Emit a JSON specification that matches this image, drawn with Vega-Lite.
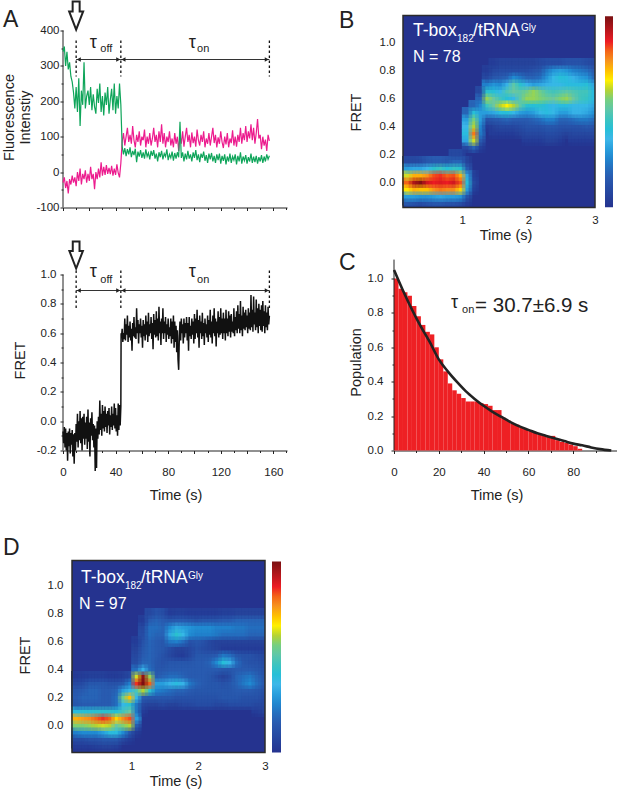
{"$schema":"https://vega.github.io/schema/vega-lite/v6.json","padding":{"left":2,"top":-2.5,"right":0,"bottom":0},"background":"white","bounds":"flush","align":"none","columns":3,"spacing":{"row":0,"column":0},"config":{"view":{"stroke":null},"font":"Liberation Sans","text":{"font":"Liberation Sans","color":"#222"},"axis":{"labelFont":"Liberation Sans","labelFontSize":11.5,"labelColor":"#222","grid":false,"domainColor":"#222","tickColor":"#222","title":null,"labelOverlap":false,"labelFlush":false}},
"datasets":{
"traceA":[{"t":0,"green":340,"pink":-30},{"t":1,"green":355,"pink":-15},{"t":2,"green":300,"pink":-45},{"t":3,"green":340,"pink":-25},{"t":4,"green":290,"pink":-60},{"t":5,"green":310,"pink":-20},{"t":6,"green":270,"pink":-35},{"t":7,"green":255,"pink":-10},{"t":8,"green":225,"pink":-30},{"t":9,"green":180,"pink":-15},{"t":10,"green":240,"pink":-40},{"t":11,"green":170,"pink":0},{"t":12,"green":265,"pink":-25},{"t":13,"green":130,"pink":10},{"t":14,"green":230,"pink":-35},{"t":15,"green":190,"pink":-5},{"t":16,"green":310,"pink":-20},{"t":17,"green":180,"pink":5},{"t":18,"green":215,"pink":-30},{"t":19,"green":230,"pink":-5},{"t":20,"green":190,"pink":-25},{"t":21,"green":240,"pink":15},{"t":22,"green":175,"pink":-20},{"t":23,"green":220,"pink":-5},{"t":24,"green":185,"pink":-48},{"t":25,"green":165,"pink":0},{"t":26,"green":235,"pink":-20},{"t":27,"green":195,"pink":10},{"t":28,"green":250,"pink":-15},{"t":29,"green":170,"pink":28},{"t":30,"green":215,"pink":-10},{"t":31,"green":160,"pink":15},{"t":32,"green":225,"pink":-8},{"t":33,"green":190,"pink":20},{"t":34,"green":240,"pink":-5},{"t":35,"green":165,"pink":12},{"t":36,"green":205,"pink":-6},{"t":37,"green":235,"pink":18},{"t":38,"green":175,"pink":-10},{"t":39,"green":250,"pink":10},{"t":40,"green":165,"pink":-8},{"t":41,"green":215,"pink":22},{"t":42,"green":180,"pink":-2},{"t":43,"green":250,"pink":-15},{"t":44,"green":190,"pink":25},{"t":45,"green":72,"pink":85},{"t":46,"green":50,"pink":110},{"t":47,"green":68,"pink":75},{"t":48,"green":45,"pink":100},{"t":49,"green":65,"pink":125},{"t":50,"green":50,"pink":85},{"t":51,"green":70,"pink":105},{"t":52,"green":42,"pink":80},{"t":53,"green":60,"pink":130},{"t":54,"green":48,"pink":90},{"t":55,"green":66,"pink":70},{"t":56,"green":28,"pink":105},{"t":57,"green":58,"pink":85},{"t":58,"green":44,"pink":115},{"t":59,"green":62,"pink":75},{"t":60,"green":40,"pink":100},{"t":61,"green":56,"pink":90},{"t":62,"green":38,"pink":120},{"t":63,"green":64,"pink":70},{"t":64,"green":44,"pink":100},{"t":65,"green":54,"pink":80},{"t":66,"green":36,"pink":110},{"t":67,"green":60,"pink":75},{"t":68,"green":46,"pink":95},{"t":69,"green":62,"pink":125},{"t":70,"green":38,"pink":85},{"t":71,"green":52,"pink":105},{"t":72,"green":30,"pink":70},{"t":73,"green":56,"pink":115},{"t":74,"green":42,"pink":85},{"t":75,"green":60,"pink":135},{"t":76,"green":36,"pink":80},{"t":77,"green":52,"pink":110},{"t":78,"green":44,"pink":70},{"t":79,"green":64,"pink":100},{"t":80,"green":34,"pink":85},{"t":81,"green":50,"pink":115},{"t":82,"green":40,"pink":75},{"t":83,"green":58,"pink":95},{"t":84,"green":32,"pink":70},{"t":85,"green":54,"pink":110},{"t":86,"green":38,"pink":80},{"t":87,"green":56,"pink":100},{"t":88,"green":42,"pink":60},{"t":89,"green":142,"pink":105},{"t":90,"green":40,"pink":80},{"t":91,"green":56,"pink":115},{"t":92,"green":30,"pink":72},{"t":93,"green":52,"pink":100},{"t":94,"green":36,"pink":125},{"t":95,"green":60,"pink":85},{"t":96,"green":38,"pink":105},{"t":97,"green":50,"pink":70},{"t":98,"green":30,"pink":112},{"t":99,"green":56,"pink":82},{"t":100,"green":40,"pink":100},{"t":101,"green":62,"pink":72},{"t":102,"green":34,"pink":120},{"t":103,"green":50,"pink":90},{"t":104,"green":28,"pink":75},{"t":105,"green":52,"pink":105},{"t":106,"green":40,"pink":85},{"t":107,"green":58,"pink":115},{"t":108,"green":32,"pink":70},{"t":109,"green":48,"pink":95},{"t":110,"green":26,"pink":80},{"t":111,"green":52,"pink":110},{"t":112,"green":36,"pink":75},{"t":113,"green":54,"pink":100},{"t":114,"green":30,"pink":125},{"t":115,"green":46,"pink":82},{"t":116,"green":26,"pink":105},{"t":117,"green":50,"pink":70},{"t":118,"green":34,"pink":98},{"t":119,"green":52,"pink":80},{"t":120,"green":24,"pink":115},{"t":121,"green":46,"pink":85},{"t":122,"green":32,"pink":68},{"t":123,"green":50,"pink":100},{"t":124,"green":22,"pink":78},{"t":125,"green":44,"pink":110},{"t":126,"green":30,"pink":70},{"t":127,"green":52,"pink":95},{"t":128,"green":26,"pink":82},{"t":129,"green":44,"pink":118},{"t":130,"green":34,"pink":75},{"t":131,"green":50,"pink":100},{"t":132,"green":22,"pink":72},{"t":133,"green":46,"pink":105},{"t":134,"green":30,"pink":85},{"t":135,"green":56,"pink":125},{"t":136,"green":24,"pink":80},{"t":137,"green":44,"pink":110},{"t":138,"green":32,"pink":90},{"t":139,"green":48,"pink":130},{"t":140,"green":24,"pink":85},{"t":141,"green":42,"pink":115},{"t":142,"green":30,"pink":95},{"t":143,"green":52,"pink":135},{"t":144,"green":26,"pink":90},{"t":145,"green":44,"pink":125},{"t":146,"green":28,"pink":80},{"t":147,"green":46,"pink":110},{"t":148,"green":24,"pink":150},{"t":149,"green":42,"pink":95},{"t":150,"green":30,"pink":105},{"t":151,"green":48,"pink":65},{"t":152,"green":26,"pink":100},{"t":153,"green":44,"pink":75},{"t":154,"green":30,"pink":92},{"t":155,"green":50,"pink":60},{"t":156,"green":36,"pink":105},{"t":157,"green":46,"pink":88}],
"fretA":[{"t":0,"f":-0.07},{"t":0.5,"f":-0.15},{"t":1,"f":-0.04},{"t":1.5,"f":-0.18},{"t":2,"f":-0.05},{"t":2.5,"f":-0.2},{"t":3,"f":-0.08},{"t":3.5,"f":-0.27},{"t":4,"f":-0.07},{"t":4.5,"f":-0.17},{"t":5,"f":-0.05},{"t":5.5,"f":-0.22},{"t":6,"f":-0.08},{"t":6.5,"f":-0.16},{"t":7,"f":-0.06},{"t":7.5,"f":-0.24},{"t":8,"f":-0.09},{"t":8.5,"f":-0.29},{"t":9,"f":-0.08},{"t":9.5,"f":-0.2},{"t":10,"f":-0.02},{"t":10.5,"f":-0.14},{"t":11,"f":0.05},{"t":11.5,"f":-0.18},{"t":12,"f":0},{"t":12.5,"f":-0.13},{"t":13,"f":0.07},{"t":13.5,"f":-0.15},{"t":14,"f":0.02},{"t":14.5,"f":-0.2},{"t":15,"f":0.03},{"t":15.5,"f":-0.12},{"t":16,"f":0.05},{"t":16.5,"f":-0.16},{"t":17,"f":-0.01},{"t":17.5,"f":-0.12},{"t":18,"f":0.03},{"t":18.5,"f":-0.19},{"t":19,"f":0.08},{"t":19.5,"f":-0.14},{"t":20,"f":-0.01},{"t":20.5,"f":-0.24},{"t":21,"f":0.02},{"t":21.5,"f":-0.1},{"t":22,"f":0.06},{"t":22.5,"f":-0.13},{"t":23,"f":-0.02},{"t":23.5,"f":-0.18},{"t":24,"f":-0.03},{"t":24.5,"f":-0.34},{"t":25,"f":-0.05},{"t":25.5,"f":-0.32},{"t":26,"f":0},{"t":26.5,"f":-0.12},{"t":27,"f":0.03},{"t":27.5,"f":-0.09},{"t":28,"f":0.14},{"t":28.5,"f":-0.06},{"t":29,"f":0.05},{"t":29.5,"f":-0.1},{"t":30,"f":0.11},{"t":30.5,"f":-0.05},{"t":31,"f":0.07},{"t":31.5,"f":-0.07},{"t":32,"f":0.1},{"t":32.5,"f":-0.04},{"t":33,"f":0.05},{"t":33.5,"f":-0.08},{"t":34,"f":0.07},{"t":34.5,"f":-0.03},{"t":35,"f":0.09},{"t":35.5,"f":-0.09},{"t":36,"f":0.04},{"t":36.5,"f":-0.04},{"t":37,"f":0.1},{"t":37.5,"f":-0.06},{"t":38,"f":0.05},{"t":38.5,"f":-0.03},{"t":39,"f":0.12},{"t":39.5,"f":-0.05},{"t":40,"f":0.09},{"t":40.5,"f":-0.07},{"t":41,"f":0.04},{"t":41.5,"f":-0.1},{"t":42,"f":0.12},{"t":42.5,"f":-0.06},{"t":43,"f":0.11},{"t":43.5,"f":-0.03},{"t":44,"f":0.1},{"t":44.2,"f":0.6},{"t":44.5,"f":0.57},{"t":45,"f":0.63},{"t":45.5,"f":0.54},{"t":46,"f":0.6},{"t":46.5,"f":0.56},{"t":47,"f":0.7},{"t":47.5,"f":0.55},{"t":48,"f":0.66},{"t":48.5,"f":0.59},{"t":49,"f":0.72},{"t":49.5,"f":0.54},{"t":50,"f":0.65},{"t":50.5,"f":0.57},{"t":51,"f":0.68},{"t":51.5,"f":0.55},{"t":52,"f":0.63},{"t":52.5,"f":0.48},{"t":53,"f":0.67},{"t":53.5,"f":0.58},{"t":54,"f":0.71},{"t":54.5,"f":0.57},{"t":55,"f":0.64},{"t":55.5,"f":0.56},{"t":56,"f":0.77},{"t":56.5,"f":0.6},{"t":57,"f":0.69},{"t":57.5,"f":0.53},{"t":58,"f":0.66},{"t":58.5,"f":0.6},{"t":59,"f":0.7},{"t":59.5,"f":0.57},{"t":60,"f":0.65},{"t":60.5,"f":0.5},{"t":61,"f":0.69},{"t":61.5,"f":0.58},{"t":62,"f":0.66},{"t":62.5,"f":0.55},{"t":63,"f":0.72},{"t":63.5,"f":0.59},{"t":64,"f":0.68},{"t":64.5,"f":0.54},{"t":65,"f":0.74},{"t":65.5,"f":0.58},{"t":66,"f":0.66},{"t":66.5,"f":0.6},{"t":67,"f":0.71},{"t":67.5,"f":0.56},{"t":68,"f":0.67},{"t":68.5,"f":0.49},{"t":69,"f":0.73},{"t":69.5,"f":0.59},{"t":70,"f":0.69},{"t":70.5,"f":0.57},{"t":71,"f":0.75},{"t":71.5,"f":0.58},{"t":72,"f":0.7},{"t":72.5,"f":0.55},{"t":73,"f":0.78},{"t":73.5,"f":0.6},{"t":74,"f":0.68},{"t":74.5,"f":0.52},{"t":75,"f":0.7},{"t":75.5,"f":0.6},{"t":76,"f":0.77},{"t":76.5,"f":0.56},{"t":77,"f":0.68},{"t":77.5,"f":0.6},{"t":78,"f":0.71},{"t":78.5,"f":0.54},{"t":79,"f":0.66},{"t":79.5,"f":0.59},{"t":80,"f":0.7},{"t":80.5,"f":0.56},{"t":81,"f":0.64},{"t":81.5,"f":0.58},{"t":82,"f":0.7},{"t":82.5,"f":0.53},{"t":83,"f":0.68},{"t":83.5,"f":0.56},{"t":84,"f":0.72},{"t":84.5,"f":0.5},{"t":85,"f":0.68},{"t":85.5,"f":0.54},{"t":86,"f":0.65},{"t":86.5,"f":0.47},{"t":87,"f":0.62},{"t":87.5,"f":0.42},{"t":88,"f":0.35},{"t":88.5,"f":0.58},{"t":89,"f":0.68},{"t":89.5,"f":0.55},{"t":90,"f":0.7},{"t":90.5,"f":0.6},{"t":91,"f":0.66},{"t":91.5,"f":0.53},{"t":92,"f":0.7},{"t":92.5,"f":0.57},{"t":93,"f":0.67},{"t":93.5,"f":0.6},{"t":94,"f":0.71},{"t":94.5,"f":0.55},{"t":95,"f":0.67},{"t":95.5,"f":0.48},{"t":96,"f":0.71},{"t":96.5,"f":0.58},{"t":97,"f":0.65},{"t":97.5,"f":0.56},{"t":98,"f":0.7},{"t":98.5,"f":0.59},{"t":99,"f":0.68},{"t":99.5,"f":0.53},{"t":100,"f":0.73},{"t":100.5,"f":0.56},{"t":101,"f":0.7},{"t":101.5,"f":0.6},{"t":102,"f":0.76},{"t":102.5,"f":0.57},{"t":103,"f":0.69},{"t":103.5,"f":0.5},{"t":104,"f":0.72},{"t":104.5,"f":0.6},{"t":105,"f":0.68},{"t":105.5,"f":0.56},{"t":106,"f":0.74},{"t":106.5,"f":0.58},{"t":107,"f":0.67},{"t":107.5,"f":0.52},{"t":108,"f":0.7},{"t":108.5,"f":0.6},{"t":109,"f":0.66},{"t":109.5,"f":0.57},{"t":110,"f":0.72},{"t":110.5,"f":0.54},{"t":111,"f":0.69},{"t":111.5,"f":0.59},{"t":112,"f":0.76},{"t":112.5,"f":0.57},{"t":113,"f":0.68},{"t":113.5,"f":0.53},{"t":114,"f":0.72},{"t":114.5,"f":0.6},{"t":115,"f":0.77},{"t":115.5,"f":0.58},{"t":116,"f":0.7},{"t":116.5,"f":0.51},{"t":117,"f":0.68},{"t":117.5,"f":0.6},{"t":118,"f":0.75},{"t":118.5,"f":0.57},{"t":119,"f":0.71},{"t":119.5,"f":0.59},{"t":120,"f":0.77},{"t":120.5,"f":0.6},{"t":121,"f":0.7},{"t":121.5,"f":0.56},{"t":122,"f":0.74},{"t":122.5,"f":0.6},{"t":123,"f":0.7},{"t":123.5,"f":0.55},{"t":124,"f":0.76},{"t":124.5,"f":0.6},{"t":125,"f":0.7},{"t":125.5,"f":0.58},{"t":126,"f":0.75},{"t":126.5,"f":0.61},{"t":127,"f":0.72},{"t":127.5,"f":0.57},{"t":128,"f":0.73},{"t":128.5,"f":0.61},{"t":129,"f":0.68},{"t":129.5,"f":0.6},{"t":130,"f":0.77},{"t":130.5,"f":0.58},{"t":131,"f":0.71},{"t":131.5,"f":0.62},{"t":132,"f":0.75},{"t":132.5,"f":0.6},{"t":133,"f":0.79},{"t":133.5,"f":0.63},{"t":134,"f":0.73},{"t":134.5,"f":0.6},{"t":135,"f":0.82},{"t":135.5,"f":0.62},{"t":136,"f":0.72},{"t":136.5,"f":0.58},{"t":137,"f":0.78},{"t":137.5,"f":0.63},{"t":138,"f":0.74},{"t":138.5,"f":0.62},{"t":139,"f":0.76},{"t":139.5,"f":0.64},{"t":140,"f":0.72},{"t":140.5,"f":0.6},{"t":141,"f":0.77},{"t":141.5,"f":0.63},{"t":142,"f":0.74},{"t":142.5,"f":0.62},{"t":143,"f":0.86},{"t":143.5,"f":0.64},{"t":144,"f":0.76},{"t":144.5,"f":0.61},{"t":145,"f":0.85},{"t":145.5,"f":0.66},{"t":146,"f":0.74},{"t":146.5,"f":0.62},{"t":147,"f":0.83},{"t":147.5,"f":0.64},{"t":148,"f":0.77},{"t":148.5,"f":0.6},{"t":149,"f":0.8},{"t":149.5,"f":0.65},{"t":150,"f":0.76},{"t":150.5,"f":0.62},{"t":151,"f":0.79},{"t":151.5,"f":0.61},{"t":152,"f":0.82},{"t":152.5,"f":0.65},{"t":153,"f":0.75},{"t":153.5,"f":0.6},{"t":154,"f":0.79},{"t":154.5,"f":0.64},{"t":155,"f":0.74},{"t":155.5,"f":0.62},{"t":156,"f":0.78},{"t":156.5,"f":0.66},{"t":157,"f":0.72}],
"bars":[{"t":1,"p":1},{"t":3,"p":0.94},{"t":5,"p":0.92},{"t":7,"p":0.9},{"t":9,"p":0.84},{"t":11,"p":0.78},{"t":13,"p":0.73},{"t":15,"p":0.69},{"t":17,"p":0.675},{"t":19,"p":0.6},{"t":21,"p":0.53},{"t":23,"p":0.46},{"t":25,"p":0.39},{"t":27,"p":0.35},{"t":29,"p":0.33},{"t":31,"p":0.305},{"t":33,"p":0.285},{"t":35,"p":0.285},{"t":37,"p":0.285},{"t":39,"p":0.275},{"t":41,"p":0.27},{"t":43,"p":0.26},{"t":45,"p":0.235},{"t":47,"p":0.235},{"t":49,"p":0.19},{"t":51,"p":0.175},{"t":53,"p":0.155},{"t":55,"p":0.15},{"t":57,"p":0.135},{"t":59,"p":0.125},{"t":61,"p":0.115},{"t":63,"p":0.105},{"t":65,"p":0.095},{"t":67,"p":0.088},{"t":69,"p":0.085},{"t":71,"p":0.085},{"t":73,"p":0.06},{"t":75,"p":0.05},{"t":77,"p":0.045},{"t":79,"p":0.035},{"t":81,"p":0.025},{"t":83,"p":0.01}],
"fit":[{"t":0,"p":1.05},{"t":4,"p":0.93},{"t":8,"p":0.82},{"t":12,"p":0.72},{"t":16,"p":0.63},{"t":20,"p":0.53},{"t":24,"p":0.46},{"t":28,"p":0.4},{"t":32,"p":0.345},{"t":36,"p":0.3},{"t":40,"p":0.26},{"t":44,"p":0.225},{"t":48,"p":0.195},{"t":52,"p":0.165},{"t":56,"p":0.14},{"t":60,"p":0.12},{"t":64,"p":0.1},{"t":68,"p":0.085},{"t":72,"p":0.07},{"t":76,"p":0.055},{"t":80,"p":0.04},{"t":84,"p":0.03},{"t":88,"p":0.018},{"t":92,"p":0.008},{"t":97,"p":0}],
"heatB":[
{"t":0.15,"f":-0.15,"d":14},{"t":0.25,"f":-0.15,"d":12},{"t":0.35,"f":-0.15,"d":10},{"t":0.45,"f":-0.15,"d":12},{"t":0.55,"f":-0.15,"d":14},{"t":0.65,"f":-0.15,"d":14},{"t":0.75,"f":-0.15,"d":12},{"t":0.85,"f":-0.15,"d":12},{"t":0.95,"f":-0.15,"d":10},{"t":1.05,"f":-0.15,"d":4},
{"t":0.15,"f":-0.1,"d":30},{"t":0.25,"f":-0.1,"d":30},{"t":0.35,"f":-0.1,"d":28},{"t":0.45,"f":-0.1,"d":28},{"t":0.55,"f":-0.1,"d":30},{"t":0.65,"f":-0.1,"d":32},{"t":0.75,"f":-0.1,"d":30},{"t":0.85,"f":-0.1,"d":30},{"t":0.95,"f":-0.1,"d":28},{"t":1.05,"f":-0.1,"d":12},
{"t":0.15,"f":-0.05,"d":66},{"t":0.25,"f":-0.05,"d":72},{"t":0.35,"f":-0.05,"d":70},{"t":0.45,"f":-0.05,"d":70},{"t":0.55,"f":-0.05,"d":75},{"t":0.65,"f":-0.05,"d":78},{"t":0.75,"f":-0.05,"d":76},{"t":0.85,"f":-0.05,"d":76},{"t":0.95,"f":-0.05,"d":68},{"t":1.05,"f":-0.05,"d":30},{"t":1.15,"f":-0.05,"d":5},
{"t":0.15,"f":0,"d":80},{"t":0.25,"f":0,"d":92},{"t":0.35,"f":0,"d":97},{"t":0.45,"f":0,"d":88},{"t":0.55,"f":0,"d":85},{"t":0.65,"f":0,"d":87},{"t":0.75,"f":0,"d":85},{"t":0.85,"f":0,"d":88},{"t":0.95,"f":0,"d":82},{"t":1.05,"f":0,"d":40},{"t":1.15,"f":0,"d":8},
{"t":0.15,"f":0.05,"d":62},{"t":0.25,"f":0.05,"d":72},{"t":0.35,"f":0.05,"d":72},{"t":0.45,"f":0.05,"d":75},{"t":0.55,"f":0.05,"d":82},{"t":0.65,"f":0.05,"d":84},{"t":0.75,"f":0.05,"d":80},{"t":0.85,"f":0.05,"d":82},{"t":0.95,"f":0.05,"d":72},{"t":1.05,"f":0.05,"d":32},{"t":1.15,"f":0.05,"d":5},
{"t":0.15,"f":0.1,"d":30},{"t":0.25,"f":0.1,"d":32},{"t":0.35,"f":0.1,"d":32},{"t":0.45,"f":0.1,"d":35},{"t":0.55,"f":0.1,"d":42},{"t":0.65,"f":0.1,"d":45},{"t":0.75,"f":0.1,"d":40},{"t":0.85,"f":0.1,"d":44},{"t":0.95,"f":0.1,"d":42},{"t":1.05,"f":0.1,"d":15},
{"t":0.15,"f":0.15,"d":8},{"t":0.25,"f":0.15,"d":8},{"t":0.35,"f":0.15,"d":10},{"t":0.45,"f":0.15,"d":14},{"t":0.55,"f":0.15,"d":16},{"t":0.65,"f":0.15,"d":16},{"t":0.75,"f":0.15,"d":14},{"t":0.85,"f":0.15,"d":18},{"t":0.95,"f":0.15,"d":18},{"t":1.05,"f":0.15,"d":6},
{"t":0.85,"f":0.2,"d":8},{"t":0.95,"f":0.2,"d":8},
{"t":1.05,"f":0.25,"d":8},{"t":1.15,"f":0.25,"d":18},{"t":1.25,"f":0.25,"d":5},
{"t":1.05,"f":0.3,"d":32},{"t":1.15,"f":0.3,"d":62},{"t":1.25,"f":0.3,"d":15},{"t":1.95,"f":0.3,"d":4},{"t":2.05,"f":0.3,"d":4},{"t":2.15,"f":0.3,"d":4},{"t":2.25,"f":0.3,"d":6},{"t":2.35,"f":0.3,"d":6},{"t":2.45,"f":0.3,"d":4},{"t":2.65,"f":0.3,"d":4},{"t":2.75,"f":0.3,"d":4},{"t":2.85,"f":0.3,"d":4},{"t":2.95,"f":0.3,"d":4},
{"t":1.05,"f":0.35,"d":38},{"t":1.15,"f":0.35,"d":78},{"t":1.25,"f":0.35,"d":22},{"t":1.45,"f":0.35,"d":4},{"t":1.55,"f":0.35,"d":4},{"t":1.65,"f":0.35,"d":4},{"t":1.75,"f":0.35,"d":4},{"t":1.85,"f":0.35,"d":6},{"t":1.95,"f":0.35,"d":8},{"t":2.05,"f":0.35,"d":8},{"t":2.15,"f":0.35,"d":8},{"t":2.25,"f":0.35,"d":10},{"t":2.35,"f":0.35,"d":10},{"t":2.45,"f":0.35,"d":8},{"t":2.55,"f":0.35,"d":6},{"t":2.65,"f":0.35,"d":8},{"t":2.75,"f":0.35,"d":8},{"t":2.85,"f":0.35,"d":8},{"t":2.95,"f":0.35,"d":8},
{"t":1.05,"f":0.4,"d":35},{"t":1.15,"f":0.4,"d":60},{"t":1.25,"f":0.4,"d":25},{"t":1.35,"f":0.4,"d":4},{"t":1.45,"f":0.4,"d":6},{"t":1.55,"f":0.4,"d":8},{"t":1.65,"f":0.4,"d":8},{"t":1.75,"f":0.4,"d":8},{"t":1.85,"f":0.4,"d":10},{"t":1.95,"f":0.4,"d":12},{"t":2.05,"f":0.4,"d":12},{"t":2.15,"f":0.4,"d":12},{"t":2.25,"f":0.4,"d":14},{"t":2.35,"f":0.4,"d":14},{"t":2.45,"f":0.4,"d":12},{"t":2.55,"f":0.4,"d":12},{"t":2.65,"f":0.4,"d":12},{"t":2.75,"f":0.4,"d":12},{"t":2.85,"f":0.4,"d":14},{"t":2.95,"f":0.4,"d":12},
{"t":1.05,"f":0.45,"d":30},{"t":1.15,"f":0.45,"d":55},{"t":1.25,"f":0.45,"d":30},{"t":1.35,"f":0.45,"d":12},{"t":1.45,"f":0.45,"d":14},{"t":1.55,"f":0.45,"d":16},{"t":1.65,"f":0.45,"d":18},{"t":1.75,"f":0.45,"d":16},{"t":1.85,"f":0.45,"d":16},{"t":1.95,"f":0.45,"d":16},{"t":2.05,"f":0.45,"d":18},{"t":2.15,"f":0.45,"d":20},{"t":2.25,"f":0.45,"d":24},{"t":2.35,"f":0.45,"d":24},{"t":2.45,"f":0.45,"d":18},{"t":2.55,"f":0.45,"d":18},{"t":2.65,"f":0.45,"d":20},{"t":2.75,"f":0.45,"d":22},{"t":2.85,"f":0.45,"d":22},{"t":2.95,"f":0.45,"d":20},
{"t":1.05,"f":0.5,"d":18},{"t":1.15,"f":0.5,"d":40},{"t":1.25,"f":0.5,"d":30},{"t":1.35,"f":0.5,"d":30},{"t":1.45,"f":0.5,"d":32},{"t":1.55,"f":0.5,"d":38},{"t":1.65,"f":0.5,"d":40},{"t":1.75,"f":0.5,"d":36},{"t":1.85,"f":0.5,"d":30},{"t":1.95,"f":0.5,"d":28},{"t":2.05,"f":0.5,"d":30},{"t":2.15,"f":0.5,"d":36},{"t":2.25,"f":0.5,"d":38},{"t":2.35,"f":0.5,"d":36},{"t":2.45,"f":0.5,"d":30},{"t":2.55,"f":0.5,"d":30},{"t":2.65,"f":0.5,"d":34},{"t":2.75,"f":0.5,"d":34},{"t":2.85,"f":0.5,"d":32},{"t":2.95,"f":0.5,"d":28},
{"t":1.15,"f":0.55,"d":18},{"t":1.25,"f":0.55,"d":25},{"t":1.35,"f":0.55,"d":45},{"t":1.45,"f":0.55,"d":52},{"t":1.55,"f":0.55,"d":60},{"t":1.65,"f":0.55,"d":65},{"t":1.75,"f":0.55,"d":60},{"t":1.85,"f":0.55,"d":50},{"t":1.95,"f":0.55,"d":42},{"t":2.05,"f":0.55,"d":40},{"t":2.15,"f":0.55,"d":42},{"t":2.25,"f":0.55,"d":38},{"t":2.35,"f":0.55,"d":36},{"t":2.45,"f":0.55,"d":38},{"t":2.55,"f":0.55,"d":38},{"t":2.65,"f":0.55,"d":36},{"t":2.75,"f":0.55,"d":36},{"t":2.85,"f":0.55,"d":36},{"t":2.95,"f":0.55,"d":32},
{"t":1.25,"f":0.6,"d":18},{"t":1.35,"f":0.6,"d":58},{"t":1.45,"f":0.6,"d":52},{"t":1.55,"f":0.6,"d":46},{"t":1.65,"f":0.6,"d":40},{"t":1.75,"f":0.6,"d":36},{"t":1.85,"f":0.6,"d":50},{"t":1.95,"f":0.6,"d":58},{"t":2.05,"f":0.6,"d":58},{"t":2.15,"f":0.6,"d":56},{"t":2.25,"f":0.6,"d":54},{"t":2.35,"f":0.6,"d":52},{"t":2.45,"f":0.6,"d":56},{"t":2.55,"f":0.6,"d":58},{"t":2.65,"f":0.6,"d":52},{"t":2.75,"f":0.6,"d":46},{"t":2.85,"f":0.6,"d":44},{"t":2.95,"f":0.6,"d":38},
{"t":1.25,"f":0.65,"d":8},{"t":1.35,"f":0.65,"d":42},{"t":1.45,"f":0.65,"d":40},{"t":1.55,"f":0.65,"d":36},{"t":1.65,"f":0.65,"d":48},{"t":1.75,"f":0.65,"d":52},{"t":1.85,"f":0.65,"d":50},{"t":1.95,"f":0.65,"d":54},{"t":2.05,"f":0.65,"d":58},{"t":2.15,"f":0.65,"d":54},{"t":2.25,"f":0.65,"d":48},{"t":2.35,"f":0.65,"d":46},{"t":2.45,"f":0.65,"d":48},{"t":2.55,"f":0.65,"d":50},{"t":2.65,"f":0.65,"d":48},{"t":2.75,"f":0.65,"d":46},{"t":2.85,"f":0.65,"d":46},{"t":2.95,"f":0.65,"d":38},
{"t":1.35,"f":0.7,"d":24},{"t":1.45,"f":0.7,"d":28},{"t":1.55,"f":0.7,"d":26},{"t":1.65,"f":0.7,"d":34},{"t":1.75,"f":0.7,"d":50},{"t":1.85,"f":0.7,"d":42},{"t":1.95,"f":0.7,"d":34},{"t":2.05,"f":0.7,"d":30},{"t":2.15,"f":0.7,"d":32},{"t":2.25,"f":0.7,"d":34},{"t":2.35,"f":0.7,"d":36},{"t":2.45,"f":0.7,"d":36},{"t":2.55,"f":0.7,"d":38},{"t":2.65,"f":0.7,"d":38},{"t":2.75,"f":0.7,"d":38},{"t":2.85,"f":0.7,"d":40},{"t":2.95,"f":0.7,"d":32},
{"t":1.35,"f":0.75,"d":8},{"t":1.45,"f":0.75,"d":14},{"t":1.55,"f":0.75,"d":16},{"t":1.65,"f":0.75,"d":18},{"t":1.75,"f":0.75,"d":26},{"t":1.85,"f":0.75,"d":22},{"t":1.95,"f":0.75,"d":18},{"t":2.05,"f":0.75,"d":18},{"t":2.15,"f":0.75,"d":20},{"t":2.25,"f":0.75,"d":28},{"t":2.35,"f":0.75,"d":36},{"t":2.45,"f":0.75,"d":40},{"t":2.55,"f":0.75,"d":38},{"t":2.65,"f":0.75,"d":34},{"t":2.75,"f":0.75,"d":30},{"t":2.85,"f":0.75,"d":28},{"t":2.95,"f":0.75,"d":20},
{"t":1.35,"f":0.8,"d":4},{"t":1.45,"f":0.8,"d":8},{"t":1.55,"f":0.8,"d":10},{"t":1.65,"f":0.8,"d":10},{"t":1.75,"f":0.8,"d":10},{"t":1.85,"f":0.8,"d":10},{"t":1.95,"f":0.8,"d":10},{"t":2.05,"f":0.8,"d":12},{"t":2.15,"f":0.8,"d":14},{"t":2.25,"f":0.8,"d":22},{"t":2.35,"f":0.8,"d":28},{"t":2.45,"f":0.8,"d":30},{"t":2.55,"f":0.8,"d":28},{"t":2.65,"f":0.8,"d":24},{"t":2.75,"f":0.8,"d":22},{"t":2.85,"f":0.8,"d":20},{"t":2.95,"f":0.8,"d":16},
{"t":1.45,"f":0.85,"d":4},{"t":1.55,"f":0.85,"d":6},{"t":1.65,"f":0.85,"d":6},{"t":1.75,"f":0.85,"d":6},{"t":1.85,"f":0.85,"d":6},{"t":1.95,"f":0.85,"d":6},{"t":2.05,"f":0.85,"d":6},{"t":2.15,"f":0.85,"d":8},{"t":2.25,"f":0.85,"d":10},{"t":2.35,"f":0.85,"d":10},{"t":2.45,"f":0.85,"d":10},{"t":2.55,"f":0.85,"d":12},{"t":2.65,"f":0.85,"d":12},{"t":2.75,"f":0.85,"d":12},{"t":2.85,"f":0.85,"d":10},{"t":2.95,"f":0.85,"d":8}
],
"heatD":[
{"t":0.15,"f":-0.15,"d":4},{"t":0.25,"f":-0.15,"d":4},{"t":0.35,"f":-0.15,"d":4},{"t":0.45,"f":-0.15,"d":5},{"t":0.55,"f":-0.15,"d":6},{"t":0.65,"f":-0.15,"d":6},{"t":0.75,"f":-0.15,"d":5},
{"t":0.15,"f":-0.1,"d":10},{"t":0.25,"f":-0.1,"d":10},{"t":0.35,"f":-0.1,"d":12},{"t":0.45,"f":-0.1,"d":12},{"t":0.55,"f":-0.1,"d":14},{"t":0.65,"f":-0.1,"d":14},{"t":0.75,"f":-0.1,"d":14},{"t":0.85,"f":-0.1,"d":8},{"t":0.95,"f":-0.1,"d":4},
{"t":0.15,"f":-0.05,"d":24},{"t":0.25,"f":-0.05,"d":26},{"t":0.35,"f":-0.05,"d":26},{"t":0.45,"f":-0.05,"d":26},{"t":0.55,"f":-0.05,"d":30},{"t":0.65,"f":-0.05,"d":38},{"t":0.75,"f":-0.05,"d":38},{"t":0.85,"f":-0.05,"d":26},{"t":0.95,"f":-0.05,"d":14},{"t":1.05,"f":-0.05,"d":4},
{"t":0.15,"f":0,"d":56},{"t":0.25,"f":0,"d":56},{"t":0.35,"f":0,"d":58},{"t":0.45,"f":0,"d":60},{"t":0.55,"f":0,"d":62},{"t":0.65,"f":0,"d":60},{"t":0.75,"f":0,"d":52},{"t":0.85,"f":0,"d":56},{"t":0.95,"f":0,"d":60},{"t":1.05,"f":0,"d":16},
{"t":0.15,"f":0.05,"d":72},{"t":0.25,"f":0.05,"d":74},{"t":0.35,"f":0.05,"d":76},{"t":0.45,"f":0.05,"d":80},{"t":0.55,"f":0.05,"d":84},{"t":0.65,"f":0.05,"d":80},{"t":0.75,"f":0.05,"d":68},{"t":0.85,"f":0.05,"d":76},{"t":0.95,"f":0.05,"d":82},{"t":1.05,"f":0.05,"d":30},
{"t":0.15,"f":0.1,"d":38},{"t":0.25,"f":0.1,"d":40},{"t":0.35,"f":0.1,"d":40},{"t":0.45,"f":0.1,"d":42},{"t":0.55,"f":0.1,"d":42},{"t":0.65,"f":0.1,"d":42},{"t":0.75,"f":0.1,"d":40},{"t":0.85,"f":0.1,"d":46},{"t":0.95,"f":0.1,"d":52},{"t":1.05,"f":0.1,"d":22},{"t":1.15,"f":0.1,"d":4},{"t":2.85,"f":0.1,"d":4},{"t":2.95,"f":0.1,"d":6},
{"t":0.15,"f":0.15,"d":14},{"t":0.25,"f":0.15,"d":16},{"t":0.35,"f":0.15,"d":16},{"t":0.45,"f":0.15,"d":16},{"t":0.55,"f":0.15,"d":16},{"t":0.65,"f":0.15,"d":16},{"t":0.75,"f":0.15,"d":20},{"t":0.85,"f":0.15,"d":36},{"t":0.95,"f":0.15,"d":42},{"t":1.05,"f":0.15,"d":22},{"t":1.15,"f":0.15,"d":8},{"t":1.25,"f":0.15,"d":6},{"t":1.35,"f":0.15,"d":6},{"t":1.45,"f":0.15,"d":8},{"t":1.55,"f":0.15,"d":6},{"t":1.65,"f":0.15,"d":6},{"t":1.75,"f":0.15,"d":8},{"t":1.85,"f":0.15,"d":8},{"t":1.95,"f":0.15,"d":10},{"t":2.05,"f":0.15,"d":10},{"t":2.15,"f":0.15,"d":10},{"t":2.25,"f":0.15,"d":8},{"t":2.35,"f":0.15,"d":8},{"t":2.45,"f":0.15,"d":10},{"t":2.55,"f":0.15,"d":10},{"t":2.65,"f":0.15,"d":10},{"t":2.75,"f":0.15,"d":10},{"t":2.85,"f":0.15,"d":8},{"t":2.95,"f":0.15,"d":8},
{"t":0.15,"f":0.2,"d":16},{"t":0.25,"f":0.2,"d":18},{"t":0.35,"f":0.2,"d":18},{"t":0.45,"f":0.2,"d":18},{"t":0.55,"f":0.2,"d":16},{"t":0.65,"f":0.2,"d":16},{"t":0.75,"f":0.2,"d":20},{"t":0.85,"f":0.2,"d":54},{"t":0.95,"f":0.2,"d":70},{"t":1.05,"f":0.2,"d":36},{"t":1.15,"f":0.2,"d":16},{"t":1.25,"f":0.2,"d":14},{"t":1.35,"f":0.2,"d":14},{"t":1.45,"f":0.2,"d":14},{"t":1.55,"f":0.2,"d":14},{"t":1.65,"f":0.2,"d":12},{"t":1.75,"f":0.2,"d":12},{"t":1.85,"f":0.2,"d":12},{"t":1.95,"f":0.2,"d":12},{"t":2.05,"f":0.2,"d":12},{"t":2.15,"f":0.2,"d":12},{"t":2.25,"f":0.2,"d":12},{"t":2.35,"f":0.2,"d":14},{"t":2.45,"f":0.2,"d":14},{"t":2.55,"f":0.2,"d":14},{"t":2.65,"f":0.2,"d":12},{"t":2.75,"f":0.2,"d":12},{"t":2.85,"f":0.2,"d":12},{"t":2.95,"f":0.2,"d":10},
{"t":0.15,"f":0.25,"d":14},{"t":0.25,"f":0.25,"d":16},{"t":0.35,"f":0.25,"d":18},{"t":0.45,"f":0.25,"d":18},{"t":0.55,"f":0.25,"d":16},{"t":0.65,"f":0.25,"d":16},{"t":0.75,"f":0.25,"d":18},{"t":0.85,"f":0.25,"d":30},{"t":0.95,"f":0.25,"d":36},{"t":1.05,"f":0.25,"d":48},{"t":1.15,"f":0.25,"d":60},{"t":1.25,"f":0.25,"d":42},{"t":1.35,"f":0.25,"d":24},{"t":1.45,"f":0.25,"d":22},{"t":1.55,"f":0.25,"d":20},{"t":1.65,"f":0.25,"d":18},{"t":1.75,"f":0.25,"d":18},{"t":1.85,"f":0.25,"d":16},{"t":1.95,"f":0.25,"d":14},{"t":2.05,"f":0.25,"d":14},{"t":2.15,"f":0.25,"d":14},{"t":2.25,"f":0.25,"d":14},{"t":2.35,"f":0.25,"d":14},{"t":2.45,"f":0.25,"d":14},{"t":2.55,"f":0.25,"d":16},{"t":2.65,"f":0.25,"d":16},{"t":2.75,"f":0.25,"d":16},{"t":2.85,"f":0.25,"d":14},{"t":2.95,"f":0.25,"d":12},
{"t":0.15,"f":0.3,"d":8},{"t":0.25,"f":0.3,"d":10},{"t":0.35,"f":0.3,"d":14},{"t":0.45,"f":0.3,"d":14},{"t":0.55,"f":0.3,"d":14},{"t":0.65,"f":0.3,"d":12},{"t":0.75,"f":0.3,"d":12},{"t":0.85,"f":0.3,"d":14},{"t":0.95,"f":0.3,"d":24},{"t":1.05,"f":0.3,"d":84},{"t":1.15,"f":0.3,"d":98},{"t":1.25,"f":0.3,"d":80},{"t":1.35,"f":0.3,"d":30},{"t":1.45,"f":0.3,"d":30},{"t":1.55,"f":0.3,"d":34},{"t":1.65,"f":0.3,"d":38},{"t":1.75,"f":0.3,"d":34},{"t":1.85,"f":0.3,"d":22},{"t":1.95,"f":0.3,"d":18},{"t":2.05,"f":0.3,"d":16},{"t":2.15,"f":0.3,"d":14},{"t":2.25,"f":0.3,"d":14},{"t":2.35,"f":0.3,"d":12},{"t":2.45,"f":0.3,"d":14},{"t":2.55,"f":0.3,"d":18},{"t":2.65,"f":0.3,"d":22},{"t":2.75,"f":0.3,"d":26},{"t":2.85,"f":0.3,"d":20},{"t":2.95,"f":0.3,"d":16},
{"t":0.15,"f":0.35,"d":3},{"t":0.25,"f":0.35,"d":4},{"t":0.35,"f":0.35,"d":5},{"t":0.45,"f":0.35,"d":5},{"t":0.55,"f":0.35,"d":5},{"t":0.65,"f":0.35,"d":4},{"t":0.75,"f":0.35,"d":4},{"t":0.85,"f":0.35,"d":5},{"t":0.95,"f":0.35,"d":8},{"t":1.05,"f":0.35,"d":62},{"t":1.15,"f":0.35,"d":95},{"t":1.25,"f":0.35,"d":58},{"t":1.35,"f":0.35,"d":16},{"t":1.45,"f":0.35,"d":18},{"t":1.55,"f":0.35,"d":20},{"t":1.65,"f":0.35,"d":20},{"t":1.75,"f":0.35,"d":18},{"t":1.85,"f":0.35,"d":16},{"t":1.95,"f":0.35,"d":16},{"t":2.05,"f":0.35,"d":16},{"t":2.15,"f":0.35,"d":14},{"t":2.25,"f":0.35,"d":10},{"t":2.35,"f":0.35,"d":6},{"t":2.45,"f":0.35,"d":10},{"t":2.55,"f":0.35,"d":18},{"t":2.65,"f":0.35,"d":20},{"t":2.75,"f":0.35,"d":22},{"t":2.85,"f":0.35,"d":18},{"t":2.95,"f":0.35,"d":14},
{"t":1.05,"f":0.4,"d":20},{"t":1.15,"f":0.4,"d":34},{"t":1.25,"f":0.4,"d":20},{"t":1.35,"f":0.4,"d":14},{"t":1.45,"f":0.4,"d":14},{"t":1.55,"f":0.4,"d":16},{"t":1.65,"f":0.4,"d":16},{"t":1.75,"f":0.4,"d":16},{"t":1.85,"f":0.4,"d":16},{"t":1.95,"f":0.4,"d":16},{"t":2.05,"f":0.4,"d":16},{"t":2.15,"f":0.4,"d":16},{"t":2.25,"f":0.4,"d":16},{"t":2.35,"f":0.4,"d":14},{"t":2.45,"f":0.4,"d":14},{"t":2.55,"f":0.4,"d":16},{"t":2.65,"f":0.4,"d":16},{"t":2.75,"f":0.4,"d":16},{"t":2.85,"f":0.4,"d":14},{"t":2.95,"f":0.4,"d":12},
{"t":1.05,"f":0.45,"d":10},{"t":1.15,"f":0.45,"d":18},{"t":1.25,"f":0.45,"d":18},{"t":1.35,"f":0.45,"d":14},{"t":1.45,"f":0.45,"d":12},{"t":1.55,"f":0.45,"d":14},{"t":1.65,"f":0.45,"d":14},{"t":1.75,"f":0.45,"d":14},{"t":1.85,"f":0.45,"d":14},{"t":1.95,"f":0.45,"d":16},{"t":2.05,"f":0.45,"d":16},{"t":2.15,"f":0.45,"d":18},{"t":2.25,"f":0.45,"d":26},{"t":2.35,"f":0.45,"d":40},{"t":2.45,"f":0.45,"d":34},{"t":2.55,"f":0.45,"d":20},{"t":2.65,"f":0.45,"d":14},{"t":2.75,"f":0.45,"d":12},{"t":2.85,"f":0.45,"d":12},{"t":2.95,"f":0.45,"d":10},
{"t":1.05,"f":0.5,"d":8},{"t":1.15,"f":0.5,"d":16},{"t":1.25,"f":0.5,"d":18},{"t":1.35,"f":0.5,"d":16},{"t":1.45,"f":0.5,"d":12},{"t":1.55,"f":0.5,"d":8},{"t":1.65,"f":0.5,"d":5},{"t":1.75,"f":0.5,"d":4},{"t":1.85,"f":0.5,"d":8},{"t":1.95,"f":0.5,"d":14},{"t":2.05,"f":0.5,"d":14},{"t":2.15,"f":0.5,"d":14},{"t":2.25,"f":0.5,"d":16},{"t":2.35,"f":0.5,"d":22},{"t":2.45,"f":0.5,"d":20},{"t":2.55,"f":0.5,"d":14},{"t":2.65,"f":0.5,"d":12},{"t":2.75,"f":0.5,"d":12},{"t":2.85,"f":0.5,"d":10},{"t":2.95,"f":0.5,"d":8},
{"t":1.05,"f":0.55,"d":6},{"t":1.15,"f":0.55,"d":14},{"t":1.25,"f":0.55,"d":18},{"t":1.35,"f":0.55,"d":16},{"t":1.45,"f":0.55,"d":14},{"t":1.55,"f":0.55,"d":10},{"t":1.65,"f":0.55,"d":6},{"t":1.75,"f":0.55,"d":6},{"t":1.85,"f":0.55,"d":8},{"t":1.95,"f":0.55,"d":12},{"t":2.05,"f":0.55,"d":10},{"t":2.15,"f":0.55,"d":8},{"t":2.25,"f":0.55,"d":6},{"t":2.35,"f":0.55,"d":4},{"t":2.45,"f":0.55,"d":4},{"t":2.55,"f":0.55,"d":4},{"t":2.65,"f":0.55,"d":4},{"t":2.75,"f":0.55,"d":4},{"t":2.85,"f":0.55,"d":4},{"t":2.95,"f":0.55,"d":4},
{"t":1.05,"f":0.6,"d":4},{"t":1.15,"f":0.6,"d":12},{"t":1.25,"f":0.6,"d":18},{"t":1.35,"f":0.6,"d":16},{"t":1.45,"f":0.6,"d":14},{"t":1.55,"f":0.6,"d":22},{"t":1.65,"f":0.6,"d":24},{"t":1.75,"f":0.6,"d":20},{"t":1.85,"f":0.6,"d":12},{"t":1.95,"f":0.6,"d":14},{"t":2.05,"f":0.6,"d":12},{"t":2.15,"f":0.6,"d":8},{"t":2.25,"f":0.6,"d":6},{"t":2.35,"f":0.6,"d":6},{"t":2.45,"f":0.6,"d":6},{"t":2.55,"f":0.6,"d":6},{"t":2.65,"f":0.6,"d":6},{"t":2.75,"f":0.6,"d":6},{"t":2.85,"f":0.6,"d":6},{"t":2.95,"f":0.6,"d":6},
{"t":1.15,"f":0.65,"d":10},{"t":1.25,"f":0.65,"d":20},{"t":1.35,"f":0.65,"d":18},{"t":1.45,"f":0.65,"d":18},{"t":1.55,"f":0.65,"d":32},{"t":1.65,"f":0.65,"d":42},{"t":1.75,"f":0.65,"d":36},{"t":1.85,"f":0.65,"d":26},{"t":1.95,"f":0.65,"d":24},{"t":2.05,"f":0.65,"d":24},{"t":2.15,"f":0.65,"d":24},{"t":2.25,"f":0.65,"d":22},{"t":2.35,"f":0.65,"d":20},{"t":2.45,"f":0.65,"d":20},{"t":2.55,"f":0.65,"d":20},{"t":2.65,"f":0.65,"d":20},{"t":2.75,"f":0.65,"d":18},{"t":2.85,"f":0.65,"d":18},{"t":2.95,"f":0.65,"d":18},
{"t":1.15,"f":0.7,"d":8},{"t":1.25,"f":0.7,"d":20},{"t":1.35,"f":0.7,"d":20},{"t":1.45,"f":0.7,"d":18},{"t":1.55,"f":0.7,"d":26},{"t":1.65,"f":0.7,"d":32},{"t":1.75,"f":0.7,"d":30},{"t":1.85,"f":0.7,"d":28},{"t":1.95,"f":0.7,"d":26},{"t":2.05,"f":0.7,"d":26},{"t":2.15,"f":0.7,"d":26},{"t":2.25,"f":0.7,"d":24},{"t":2.35,"f":0.7,"d":24},{"t":2.45,"f":0.7,"d":24},{"t":2.55,"f":0.7,"d":22},{"t":2.65,"f":0.7,"d":22},{"t":2.75,"f":0.7,"d":20},{"t":2.85,"f":0.7,"d":20},{"t":2.95,"f":0.7,"d":20},
{"t":1.15,"f":0.75,"d":4},{"t":1.25,"f":0.75,"d":16},{"t":1.35,"f":0.75,"d":18},{"t":1.45,"f":0.75,"d":16},{"t":1.55,"f":0.75,"d":14},{"t":1.65,"f":0.75,"d":16},{"t":1.75,"f":0.75,"d":16},{"t":1.85,"f":0.75,"d":14},{"t":1.95,"f":0.75,"d":12},{"t":2.05,"f":0.75,"d":14},{"t":2.15,"f":0.75,"d":14},{"t":2.25,"f":0.75,"d":14},{"t":2.35,"f":0.75,"d":16},{"t":2.45,"f":0.75,"d":16},{"t":2.55,"f":0.75,"d":18},{"t":2.65,"f":0.75,"d":18},{"t":2.75,"f":0.75,"d":18},{"t":2.85,"f":0.75,"d":18},{"t":2.95,"f":0.75,"d":18},
{"t":1.25,"f":0.8,"d":8},{"t":1.35,"f":0.8,"d":12},{"t":1.45,"f":0.8,"d":10},{"t":1.55,"f":0.8,"d":4},{"t":1.65,"f":0.8,"d":5},{"t":1.75,"f":0.8,"d":5},{"t":1.85,"f":0.8,"d":4},{"t":1.95,"f":0.8,"d":4},{"t":2.05,"f":0.8,"d":4},{"t":2.15,"f":0.8,"d":4},{"t":2.25,"f":0.8,"d":4},{"t":2.35,"f":0.8,"d":5},{"t":2.45,"f":0.8,"d":5},{"t":2.55,"f":0.8,"d":6},{"t":2.65,"f":0.8,"d":6},{"t":2.75,"f":0.8,"d":6},{"t":2.85,"f":0.8,"d":6},{"t":2.95,"f":0.8,"d":6}
]
},
"concat":[
{"width":224,"height":207,"encoding":{"x":{"field":"t","type":"quantitative","scale":{"domain":[0,170.4],"nice":false},"axis":{"values":[0,10,20,30,40,50,60,70,80,90,100,110,120,130,140,150,160,170],"labels":false,"tickSize":{"condition":{"test":"datum.value % 20","value":2},"value":3}}},"y":{"field":"v","type":"quantitative","scale":{"domain":[-100,484.7],"nice":false,"zero":false},"axis":{"domain":false,"values":[-100,-50,0,50,100,150,200,250,300,350,400],"labelExpr":"datum.value % 100 ? '' : replace(datum.label,'−','-')","format":"d","labelPadding":1,"tickSize":{"condition":{"test":"datum.value % 100","value":2},"value":3}}}},
"layer":[
{"data":{"values":[{"t":0,"v":-100,"v2":400}]},"mark":{"type":"rule","color":"#222"},"encoding":{"y2":{"field":"v2"}}},
{"data":{"name":"traceA"},"transform":[{"fold":["pink","green"],"as":["series","v"]}],"mark":{"type":"line","strokeWidth":1.2,"clip":false},"encoding":{"color":{"field":"series","type":"nominal","scale":{"domain":["pink","green"],"range":["#ec1c8e","#0fa55a"]},"legend":null}}},
{"data":{"values":[{"t":10,"v":372,"v2":270},{"t":44,"v":372,"v2":270},{"t":157,"v":372,"v2":270}]},"mark":{"type":"rule","color":"#111","strokeWidth":1.3,"strokeDash":[2.5,2.5]},"encoding":{"y2":{"field":"v2"}}},
{"data":{"values":[{"t":10,"t2":44,"v":318},{"t":44,"t2":157,"v":318}]},"mark":{"type":"rule","color":"#333","strokeWidth":1.2},"encoding":{"x2":{"field":"t2"}}},
{"data":{"values":[{"t":12,"v":318},{"t":46,"v":318}]},"mark":{"type":"point","shape":"triangle-left","filled":true,"color":"#222","size":22,"opacity":1}},
{"data":{"values":[{"t":42,"v":318},{"t":155,"v":318}]},"mark":{"type":"point","shape":"triangle-right","filled":true,"color":"#222","size":22,"opacity":1}},
{"data":{"values":[{"t":10,"v":442}]},"mark":{"type":"point","shape":"M-0.25,-1L0.25,-1L0.25,-0.3L0.5,-0.3L0,1L-0.5,-0.3L-0.25,-0.3Z","filled":true,"fill":"white","stroke":"#222","strokeWidth":2,"size":784,"opacity":1}},
{"data":{"values":[{"t":-45.6,"v":431,"label":"A"}]},"mark":{"type":"text","align":"left","fontSize":23},"encoding":{"text":{"field":"label"}}},
{"data":{"values":[{"t":-40.3,"v":154,"label":"Fluorescence"},{"t":-28.1,"v":154,"label":"Intenstiy"}]},"mark":{"type":"text","angle":270,"fontSize":14.5},"encoding":{"text":{"field":"label"}}},
{"data":{"values":[{"t":23,"v":366,"label":"τ"},{"t":98.4,"v":366,"label":"τ"}]},"mark":{"type":"text","fontSize":18},"encoding":{"text":{"field":"label"}}},
{"data":{"values":[{"t":28.4,"v":349,"label":"off"},{"t":102,"v":349,"label":"on"}]},"mark":{"type":"text","align":"left","fontSize":11},"encoding":{"text":{"field":"label"}}}
]},
{"width":107,"height":1,"data":{"values":[{"gap":1}]},"mark":{"type":"point","opacity":0}},
{"width":201,"height":207,"encoding":{"x":{"field":"t","type":"quantitative","scale":{"domain":[-0.0255,3],"nice":false,"zero":false,"padding":0},"axis":{"values":[1,2,3],"format":"d","domain":false,"tickSize":0,"labelPadding":7}},"y":{"field":"f","type":"quantitative","scale":{"domain":[-0.1786,1.3],"nice":false,"zero":false,"padding":0},"axis":{"values":[0,0.2,0.4,0.6,0.8,1],"format":".1f","domain":false,"tickSize":0,"labelPadding":-1}}},
"layer":[
{"data":{"values":[{"t":0.11,"t2":3,"f":-0.1786,"f2":1.193}]},"mark":{"type":"rect","fill":"#25338f"},"encoding":{"x2":{"field":"t2"},"y2":{"field":"f2"}}},
{"data":{"name":"heatB"},"mark":{"type":"rect","width":7.2,"height":7.6,"clip":true,"xOffset":0,"yOffset":-1.75},"encoding":{"color":{"field":"d","type":"quantitative","scale":{"domain":[0,17,35,52,60,65,75,85,98],"range":["#25338f","#2a5fb3","#3db7e9","#6cc7a0","#b5d334","#fff000","#f7941d","#ed1c24","#7a1012"]},"legend":{"orient":"none","legendX":211,"legendY":15.7,"title":null,"labelExpr":"''","labelFontSize":1,"gradientLength":191,"gradientThickness":8,"encode":{"gradient":{"update":{"opacity":{"value":1}}}}}}}},
{"data":{"name":"heatB"},"mark":{"type":"rect","width":7.2,"height":7.6,"clip":true,"xOffset":3.3,"yOffset":-1.75,"opacity":0.5},"encoding":{"color":{"field":"d","type":"quantitative"}}},
{"data":{"name":"heatB"},"mark":{"type":"rect","width":7.2,"height":7.6,"clip":true,"xOffset":0,"yOffset":1.75,"opacity":0.33},"encoding":{"color":{"field":"d","type":"quantitative"}}},
{"data":{"name":"heatB"},"mark":{"type":"rect","width":7.2,"height":7.6,"clip":true,"xOffset":3.3,"yOffset":1.75,"opacity":0.25},"encoding":{"color":{"field":"d","type":"quantitative"}}},
{"data":{"values":[{"t":0.11,"t2":3,"f":-0.1786,"f2":1.193}]},"mark":{"type":"rect","fill":null,"stroke":"#2b2b2b","strokeWidth":1.5},"encoding":{"x2":{"field":"t2"},"y2":{"field":"f2"}}},
{"data":{"values":[{"t":-0.854,"f":1.15,"label":"B"}]},"mark":{"type":"text","align":"left","fontSize":23},"encoding":{"text":{"field":"label"}}},
{"data":{"values":[{"t":-0.583,"f":0.5,"label":"FRET"}]},"mark":{"type":"text","angle":270,"fontSize":14.5},"encoding":{"text":{"field":"label"}}},
{"data":{"values":[{"t":1.661,"f":-0.379,"label":"Time (s)"}]},"mark":{"type":"text","fontSize":14.5},"encoding":{"text":{"field":"label"}}},
{"data":{"values":[{"t":0.26,"f":1.079,"label":"T-box"},{"t":1.164,"f":1.079,"label":"/tRNA"}]},"mark":{"type":"text","align":"left","fontSize":17.5,"color":"white"},"encoding":{"text":{"field":"label"}}},
{"data":{"values":[{"t":0.26,"f":0.893,"label":"N = 78"}]},"mark":{"type":"text","align":"left","fontSize":16,"color":"white"},"encoding":{"text":{"field":"label"}}},
{"data":{"values":[{"t":0.923,"f":1.025,"label":"182"},{"t":1.887,"f":1.107,"label":"Gly"}]},"mark":{"type":"text","align":"left","fontSize":10,"color":"white"},"encoding":{"text":{"field":"label"}}}
]},
{"width":224,"height":243,"encoding":{"x":{"field":"t","type":"quantitative","scale":{"domain":[0,170.4],"nice":false},"axis":{"values":[0,10,20,30,40,50,60,70,80,90,100,110,120,130,140,150,160,170],"labelExpr":"datum.value % 40 ? '' : datum.label","format":"d","labelPadding":13,"tickSize":{"condition":{"test":"datum.value % 20","value":2},"value":3}}},"y":{"field":"f","type":"quantitative","scale":{"domain":[-0.2,1.457],"nice":false,"zero":false},"axis":{"domain":false,"values":[-0.2,-0.1,0,0.1,0.2,0.3,0.4,0.5,0.6,0.7,0.8,0.9,1],"format":".1f","labelExpr":"round(datum.value*10) % 2 ? '' : replace(datum.label,'−','-')","labelPadding":4,"tickSize":{"condition":{"test":"round(datum.value*10) % 2","value":2},"value":3}}}},
"layer":[
{"data":{"values":[{"t":0,"f":-0.2,"f2":1}]},"mark":{"type":"rule","color":"#222"},"encoding":{"y2":{"field":"f2"}}},
{"data":{"name":"fretA"},"mark":{"type":"line","strokeWidth":1.5,"color":"#111","clip":false}},
{"data":{"values":[{"t":10,"f":1.027,"f2":0.768},{"t":44,"f":1.027,"f2":0.768},{"t":157,"f":1.027,"f2":0.768}]},"mark":{"type":"rule","color":"#111","strokeWidth":1.3,"strokeDash":[2.5,2.5]},"encoding":{"y2":{"field":"f2"}}},
{"data":{"values":[{"t":10,"t2":44,"f":0.891},{"t":44,"t2":157,"f":0.891}]},"mark":{"type":"rule","color":"#333","strokeWidth":1.2},"encoding":{"x2":{"field":"t2"}}},
{"data":{"values":[{"t":12,"f":0.891},{"t":46,"f":0.891}]},"mark":{"type":"point","shape":"triangle-left","filled":true,"color":"#222","size":22,"opacity":1}},
{"data":{"values":[{"t":42,"f":0.891},{"t":155,"f":0.891}]},"mark":{"type":"point","shape":"triangle-right","filled":true,"color":"#222","size":22,"opacity":1}},
{"data":{"values":[{"t":10,"f":1.133}]},"mark":{"type":"point","shape":"M-0.25,-1L0.25,-1L0.25,-0.3L0.5,-0.3L0,1L-0.5,-0.3L-0.25,-0.3Z","filled":true,"fill":"white","stroke":"#222","strokeWidth":2,"size":729,"opacity":1}},
{"data":{"values":[{"t":-32,"f":0.414,"label":"FRET"}]},"mark":{"type":"text","angle":270,"fontSize":14.5},"encoding":{"text":{"field":"label"}}},
{"data":{"values":[{"t":86,"f":-0.507,"label":"Time (s)"}]},"mark":{"type":"text","fontSize":14.5},"encoding":{"text":{"field":"label"}}},
{"data":{"values":[{"t":23,"f":1.014,"label":"τ"},{"t":98.4,"f":1.014,"label":"τ"}]},"mark":{"type":"text","fontSize":18},"encoding":{"text":{"field":"label"}}},
{"data":{"values":[{"t":28.4,"f":0.966,"label":"off"},{"t":102,"f":0.966,"label":"on"}]},"mark":{"type":"text","align":"left","fontSize":11},"encoding":{"text":{"field":"label"}}}
]},
{"width":107,"height":1,"data":{"values":[{"gap":1}]},"mark":{"type":"point","opacity":0}},
{"width":224,"height":243,"encoding":{"x":{"field":"t","type":"quantitative","scale":{"domain":[0,100],"nice":false,"padding":0},"axis":{"values":[0,10,20,30,40,50,60,70,80,90],"format":"d","labelExpr":"datum.value % 20 ? '' : datum.label","labelPadding":13,"tickSize":{"condition":{"test":"datum.value % 20","value":2},"value":3}}},"y":{"field":"p","type":"quantitative","scale":{"domain":[0,1.4128],"nice":false},"axis":{"domain":false,"values":[0,0.1,0.2,0.3,0.4,0.5,0.6,0.7,0.8,0.9,1],"format":".1f","labelExpr":"round(datum.value*10) % 2 ? '' : datum.label","labelPadding":8,"tickSize":{"condition":{"test":"round(datum.value*10) % 2","value":2},"value":3}}}},
"layer":[
{"data":{"name":"bars"},"mark":{"type":"bar","width":4.5,"color":"#ee2024"}},
{"data":{"values":[{"t":0,"p":0,"p2":1.11}]},"mark":{"type":"rule","color":"#222"},"encoding":{"y2":{"field":"p2"}}},
{"data":{"name":"fit"},"mark":{"type":"line","color":"#222","strokeWidth":2.6,"interpolate":"monotone"}},
{"data":{"values":[{"t":-24.6,"p":1.09,"label":"C"}]},"mark":{"type":"text","align":"left","fontSize":23},"encoding":{"text":{"field":"label"}}},
{"data":{"values":[{"t":-16.5,"p":0.512,"label":"Population"}]},"mark":{"type":"text","angle":270,"fontSize":14.5},"encoding":{"text":{"field":"label"}}},
{"data":{"values":[{"t":46,"p":-0.262,"label":"Time (s)"}]},"mark":{"type":"text","fontSize":14.5},"encoding":{"text":{"field":"label"}}},
{"data":{"values":[{"t":25.4,"p":0.8547,"label":"τ"}]},"mark":{"type":"text","align":"left","fontSize":18},"encoding":{"text":{"field":"label"}}},
{"data":{"values":[{"t":30.4,"p":0.814,"label":"on"}]},"mark":{"type":"text","align":"left","fontSize":11},"encoding":{"text":{"field":"label"}}},
{"data":{"values":[{"t":36.2,"p":0.843,"label":"= 30.7±6.9 s"}]},"mark":{"type":"text","align":"left","fontSize":20.5},"encoding":{"text":{"field":"label"}}}
]},
{"width":202,"height":302,"encoding":{"x":{"field":"t","type":"quantitative","scale":{"domain":[-0.025,3],"nice":false,"zero":false,"padding":0},"axis":{"values":[1,2,3],"format":"d","domain":false,"tickSize":0,"labelPadding":8}},"y":{"field":"f","type":"quantitative","scale":{"domain":[-0.193,1.964],"nice":false,"zero":false,"padding":0},"axis":{"values":[0,0.2,0.4,0.6,0.8,1],"format":".1f","domain":false,"tickSize":0,"labelPadding":0}}},
"layer":[
{"data":{"values":[{"t":0.11,"t2":3,"f":-0.193,"f2":1.179}]},"mark":{"type":"rect","fill":"#25338f"},"encoding":{"x2":{"field":"t2"},"y2":{"field":"f2"}}},
{"data":{"name":"heatD"},"mark":{"type":"rect","width":7.2,"height":7.6,"clip":true,"xOffset":0,"yOffset":-1.75},"encoding":{"color":{"field":"d","type":"quantitative","scale":{"domain":[0,17,35,52,60,65,75,85,98],"range":["#25338f","#2a5fb3","#3db7e9","#6cc7a0","#b5d334","#fff000","#f7941d","#ed1c24","#7a1012"]},"legend":{"orient":"none","legendX":209,"legendY":111,"title":null,"labelExpr":"''","labelFontSize":1,"gradientLength":191,"gradientThickness":9,"encode":{"gradient":{"update":{"opacity":{"value":1}}}}}}}},
{"data":{"name":"heatD"},"mark":{"type":"rect","width":7.2,"height":7.6,"clip":true,"xOffset":3.3,"yOffset":-1.75,"opacity":0.5},"encoding":{"color":{"field":"d","type":"quantitative"}}},
{"data":{"name":"heatD"},"mark":{"type":"rect","width":7.2,"height":7.6,"clip":true,"xOffset":0,"yOffset":1.75,"opacity":0.33},"encoding":{"color":{"field":"d","type":"quantitative"}}},
{"data":{"name":"heatD"},"mark":{"type":"rect","width":7.2,"height":7.6,"clip":true,"xOffset":3.3,"yOffset":1.75,"opacity":0.25},"encoding":{"color":{"field":"d","type":"quantitative"}}},
{"data":{"values":[{"t":0.11,"t2":3,"f":-0.193,"f2":1.179}]},"mark":{"type":"rect","fill":null,"stroke":"#2b2b2b","strokeWidth":1.5},"encoding":{"x2":{"field":"t2"},"y2":{"field":"f2"}}},
{"data":{"values":[{"t":-0.923,"f":1.271,"label":"D"}]},"mark":{"type":"text","align":"left","fontSize":23},"encoding":{"text":{"field":"label"}}},
{"data":{"values":[{"t":-0.579,"f":0.5,"label":"FRET"}]},"mark":{"type":"text","angle":270,"fontSize":14.5},"encoding":{"text":{"field":"label"}}},
{"data":{"values":[{"t":1.667,"f":-0.407,"label":"Time (s)"}]},"mark":{"type":"text","fontSize":14.5},"encoding":{"text":{"field":"label"}}},
{"data":{"values":[{"t":0.245,"f":1.05,"label":"T-box"},{"t":1.143,"f":1.05,"label":"/tRNA"}]},"mark":{"type":"text","align":"left","fontSize":17.5,"color":"white"},"encoding":{"text":{"field":"label"}}},
{"data":{"values":[{"t":0.215,"f":0.871,"label":"N = 97"}]},"mark":{"type":"text","align":"left","fontSize":16,"color":"white"},"encoding":{"text":{"field":"label"}}},
{"data":{"values":[{"t":0.903,"f":0.993,"label":"182"},{"t":1.846,"f":1.071,"label":"Gly"}]},"mark":{"type":"text","align":"left","fontSize":10,"color":"white"},"encoding":{"text":{"field":"label"}}}
]}
]}
